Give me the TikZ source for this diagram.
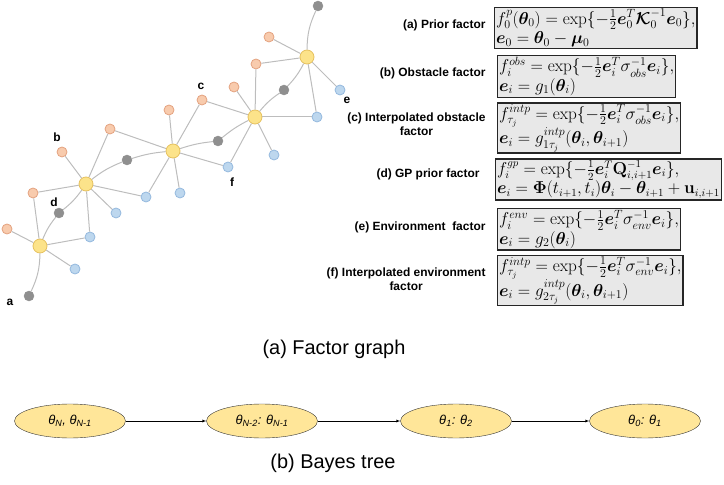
\documentclass[tikz,border=0pt]{standalone}
\usepackage{amsmath}
\usepackage{bm}
\usepackage[no-math]{fontspec}
\setmainfont{Liberation Sans}
\usetikzlibrary{shapes.geometric}

\definecolor{varfill}{HTML}{FCE38A}
\definecolor{varline}{HTML}{E6C15E}
\definecolor{obsfill}{HTML}{F8CBAD}
\definecolor{obsline}{HTML}{E3A27F}
\definecolor{envfill}{HTML}{BDD7EE}
\definecolor{envline}{HTML}{94B8DE}
\definecolor{gpfill}{HTML}{8F8F8F}
\definecolor{edgegray}{HTML}{BDBDBD}
\definecolor{boxfill}{HTML}{E8E8E8}
\definecolor{cliquefill}{HTML}{FFE699}

\newcommand{\thsub}[1]{θ\textsubscript{#1}}

\begin{document}
\begin{tikzpicture}[x=1bp,y=-1bp]
    \tikzstyle{var}=[draw=varline,fill=varfill,shape=circle,minimum size=14bp,inner sep=0pt,line width=0.8bp];
    \tikzstyle{obs}=[draw=obsline,fill=obsfill,shape=circle,minimum size=10bp,inner sep=0pt,line width=0.8bp];
    \tikzstyle{env}=[draw=envline,fill=envfill,shape=circle,minimum size=10bp,inner sep=0pt,line width=0.8bp];
    \tikzstyle{gp}=[draw=gpfill,fill=gpfill,shape=circle,minimum size=10bp,inner sep=0pt];
    \tikzstyle{edge}=[draw=edgegray,line width=1bp];
    \tikzstyle{letter}=[font=\bfseries\fontsize{12}{14}\selectfont];
    \tikzstyle{tag}=[anchor=east,align=center,font=\bfseries\fontsize{12}{14}\selectfont];
    \tikzstyle{factor}=[anchor=west,draw=black!85,fill=boxfill,line width=1.2bp,align=left,inner sep=1.5bp,font=\fontsize{17}{19.5}\selectfont];
    \tikzstyle{clique}=[draw=black!80,fill=cliquefill,shape=ellipse,minimum width=111bp,minimum height=34bp,inner sep=0pt,font=\itshape\fontsize{13}{15}\selectfont];
    \tikzstyle{caption}=[font=\fontsize{20}{24}\selectfont];

    \useasboundingbox (0,0) rectangle (724,485);

    % variables
    \node at (40,246) (v0) [var] {};
    \node at (86,184) (v1) [var] {};
    \node at (173,151) (v2) [var] {};
    \node at (255,117) (v3) [var] {};
    \node at (307,57) (v4) [var] {};

    % gp prior factors
    \node at (29,296) (ga) [gp] {};
    \node at (59,213) (g01) [gp] {};
    \node at (127,160) (g12) [gp] {};
    \node at (218,141) (g23) [gp] {};
    \node at (284,90) (g34) [gp] {};
    \node at (318,6) (gt) [gp] {};

    % obstacle factors
    \node at (7,229) (o0) [obs] {};
    \node at (33,193) (o01) [obs] {};
    \node at (62,152) (o1) [obs] {};
    \node at (110,129) (o12) [obs] {};
    \node at (169,110) (o2) [obs] {};
    \node at (202,100) (o23) [obs] {};
    \node at (234,87) (o3) [obs] {};
    \node at (256,64) (o34) [obs] {};
    \node at (269,37) (o4) [obs] {};

    % environment factors
    \node at (75,269) (b0) [env] {};
    \node at (90,237) (b01) [env] {};
    \node at (116,213) (b1) [env] {};
    \node at (146,197) (b12) [env] {};
    \node at (180,193) (b2) [env] {};
    \node at (228,167) (b23) [env] {};
    \node at (274,155) (b3) [env] {};
    \node at (317,117) (b34) [env] {};
    \node at (340,90) (b4) [env] {};

    \draw[edge] (v0) to[bend left=12] (ga);
    \draw[edge] (v0) to[bend left=8] (g01);
    \draw[edge] (g01) to[bend right=8] (v1);
    \draw[edge] (v1) to[bend left=8] (g12);
    \draw[edge] (g12) to[bend left=6] (v2);
    \draw[edge] (v2) to[bend left=6] (g23);
    \draw[edge] (g23) to[bend left=6] (v3);
    \draw[edge] (v3) to[bend left=8] (g34);
    \draw[edge] (g34) to[bend right=8] (v4);
    \draw[edge] (v4) to[bend left=12] (gt);

    \draw[edge] (v0) to (o0);
    \draw[edge] (v0) to (o01);
    \draw[edge] (v0) to (b01);
    \draw[edge] (v0) to (b0);
    \draw[edge] (v1) to (o01);
    \draw[edge] (v1) to (o1);
    \draw[edge] (v1) to (o12);
    \draw[edge] (v1) to (b12);
    \draw[edge] (v1) to (b1);
    \draw[edge] (v1) to (b01);
    \draw[edge] (v2) to (o12);
    \draw[edge] (v2) to (o2);
    \draw[edge] (v2) to (o23);
    \draw[edge] (v2) to (b23);
    \draw[edge] (v2) to (b2);
    \draw[edge] (v2) to (b12);
    \draw[edge] (v3) to (o23);
    \draw[edge] (v3) to (o3);
    \draw[edge] (v3) to (o34);
    \draw[edge] (v3) to (b34);
    \draw[edge] (v3) to (b3);
    \draw[edge] (v3) to (b23);
    \draw[edge] (v4) to (o34);
    \draw[edge] (v4) to (o4);
    \draw[edge] (v4) to (b4);
    \draw[edge] (v4) to (b34);

    \node at (10,302) (la) [letter] {a};
    \node at (57,137) (lb) [letter] {b};
    \node at (201,86) (lc) [letter] {c};
    \node at (54,202) (ld) [letter] {d};
    \node at (347,100) (le) [letter] {e};
    \node at (232,182) (lf) [letter] {f};

    % factor formulas
    \node at (494,28) (fa) [factor] {$f_0^p(\bm\theta_0)=\exp\{-\tfrac12\bm e_0^T\bm{\mathcal K}_0^{-1}\bm e_0\},$\\$\bm e_0=\bm\theta_0-\bm\mu_0$};
    \node at (497,76.5) (fb) [factor] {$f_i^{obs}=\exp\{-\tfrac12\bm e_i^T\sigma_{obs}^{-1}\bm e_i\},$\\$\bm e_i=g_1(\bm\theta_i)$};
    \node at (497,128) (fc) [factor] {$f_{\tau_j}^{intp}=\exp\{-\tfrac12\bm e_i^T\sigma_{obs}^{-1}\bm e_i\},$\\$\bm e_i=g_{1\tau_j}^{intp}(\bm\theta_i,\bm\theta_{i+1})$};
    \node at (495,179.5) (fd) [factor,font=\fontsize{16.1}{19.5}\selectfont] {$f_i^{gp}=\exp\{-\tfrac12\bm e_i^T\mathbf Q_{i,i+1}^{-1}\bm e_i\},$\\$\bm e_i=\bm\Phi(t_{i+1},t_i)\bm\theta_i-\bm\theta_{i+1}+\mathbf u_{i,i+1}$};
    \node at (497,229.5) (fe) [factor] {$f_i^{env}=\exp\{-\tfrac12\bm e_i^T\sigma_{env}^{-1}\bm e_i\},$\\$\bm e_i=g_2(\bm\theta_i)$};
    \node at (497,280.5) (ff) [factor] {$f_{\tau_j}^{intp}=\exp\{-\tfrac12\bm e_i^T\sigma_{env}^{-1}\bm e_i\},$\\$\bm e_i=g_{2\tau_j}^{intp}(\bm\theta_i,\bm\theta_{i+1})$};

    \node at (489,25) (ta) [tag] {(a) Prior factor};
    \node at (489,73) (tb) [tag] {(b) Obstacle factor};
    \node at (489,124) (tc) [tag] {(c) Interpolated obstacle\\factor};
    \node at (483,174) (td) [tag] {(d) GP prior factor};
    \node at (489,227) (te) [tag] {(e) Environment\ \ factor};
    \node at (489,279) (tf) [tag] {(f) Interpolated environment\\factor};

    \node at (334,349) (capa) [caption] {(a) Factor graph};

    % bayes tree
    \node at (70,421) (c0) [clique] {\thsub{N}, \thsub{N-1}};
    \node at (262,421) (c1) [clique] {\thsub{N-2}: \thsub{N-1}};
    \node at (456,421) (c2) [clique] {\thsub{1}: \thsub{2}};
    \node at (645,421) (c3) [clique] {\thsub{0}: \thsub{1}};

    \draw[-latex,thin] (c0) to (c1);
    \draw[-latex,thin] (c1) to (c2);
    \draw[-latex,thin] (c2) to (c3);

    \node at (333,463) (capb) [caption] {(b) Bayes tree};
\end{tikzpicture}
\end{document}
